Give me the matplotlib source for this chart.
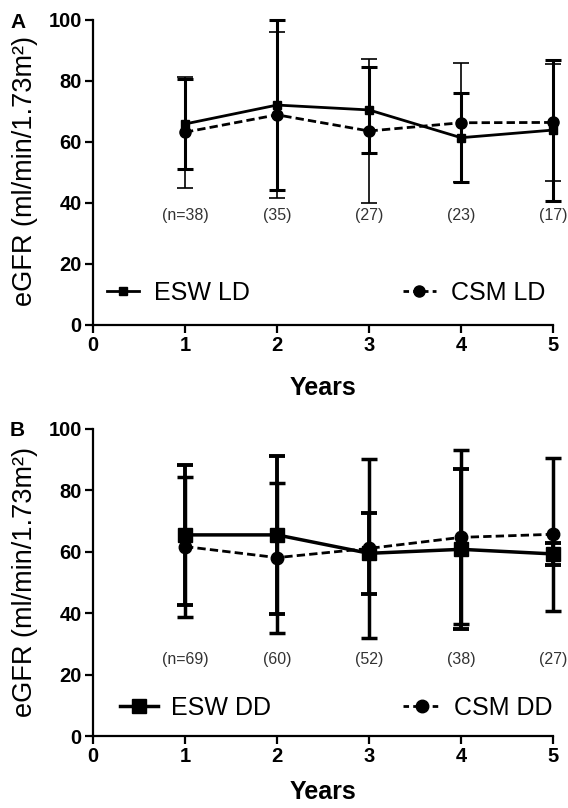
import matplotlib
matplotlib.use("Agg")
import matplotlib.pyplot as plt
from matplotlib.lines import Line2D

plt.rcParams['font.family'] = ['Liberation Sans', 'DejaVu Sans']

years = [1, 2, 3, 4, 5]

# panel A: living donor
esw_ld = [65.9, 72.1, 70.5, 61.4, 63.9]
esw_ld_sd = [14.7, 28.0, 14.0, 14.6, 23.1]
csm_ld = [63.2, 68.9, 63.6, 66.3, 66.4]
csm_ld_sd = [18.2, 27.2, 23.5, 19.5, 19.2]
n_ld = ['(n=38)', '(35)', '(27)', '(23)', '(17)']

# panel B: deceased donor
esw_dd = [65.5, 65.5, 59.5, 60.8, 59.3]
esw_dd_sd = [22.8, 25.7, 13.2, 26.0, 3.5]
csm_dd = [61.7, 58.1, 61.1, 64.7, 65.7]
csm_dd_sd = [22.8, 24.4, 29.1, 28.3, 24.9]
n_dd = ['(n=69)', '(60)', '(52)', '(38)', '(27)']

fig = plt.figure(figsize=(5.68, 8.08), dpi=100)
axA = fig.add_axes([0.1637, 0.5978, 0.81, 0.3775])
axB = fig.add_axes([0.1637, 0.0891, 0.81, 0.380])


def style_axes(ax, pad):
    ax.set_xlim(0, 5)
    ax.set_ylim(0, 100)
    ax.set_xticks([0, 1, 2, 3, 4, 5])
    ax.set_yticks([0, 20, 40, 60, 80, 100])
    ax.spines['top'].set_visible(False)
    ax.spines['right'].set_visible(False)
    for s in ['left', 'bottom']:
        ax.spines[s].set_linewidth(1.6)
    ax.tick_params(width=1.6, length=6, labelsize=14.5, pad=2)
    for lab in ax.get_xticklabels() + ax.get_yticklabels():
        lab.set_fontweight('bold')
    ax.set_xlabel('Years', fontsize=18, fontweight='bold', labelpad=pad)


# ---- panel A
axA.errorbar(years, esw_ld, yerr=esw_ld_sd, color='black', lw=2, ls='-',
             marker='s', ms=6, elinewidth=2.2, capsize=6, capthick=2.2,
             clip_on=False, zorder=3)
axA.errorbar(years, csm_ld, yerr=csm_ld_sd, color='black', lw=2, ls=(0, (3, 1.5)),
             marker='o', ms=8, elinewidth=1.2, capsize=6, capthick=1.2,
             clip_on=False, zorder=3)
for x, t in zip(years, n_ld):
    axA.text(x, 36, t, ha='center', va='center', fontsize=11.5, color='#333333')
style_axes(axA, 15)

h1 = Line2D([], [], color='black', lw=2, marker='s', ms=6)
h2 = Line2D([], [], color='black', lw=2, ls=(0, (2, 1.5)), marker='o', ms=8)
leg1 = axA.legend([h1], ['ESW LD'], loc='center left', bbox_to_anchor=(0.03, 0.105),
                  frameon=False, fontsize=18, handlelength=1.3, handletextpad=0.6,
                  borderpad=0, borderaxespad=0, numpoints=1)
axA.add_artist(leg1)
axA.legend([h2], ['CSM LD'], loc='center left', bbox_to_anchor=(0.674, 0.105),
           frameon=False, fontsize=18, handlelength=1.3, handletextpad=0.6,
           borderpad=0, borderaxespad=0, numpoints=1)

# ---- panel B
axB.errorbar(years, esw_dd, yerr=esw_dd_sd, color='black', lw=2.5, ls='-',
             marker='s', ms=10, elinewidth=2.8, capsize=6, capthick=2.8,
             clip_on=False, zorder=3)
axB.errorbar(years, csm_dd, yerr=csm_dd_sd, color='black', lw=2, ls=(0, (3, 1.5)),
             marker='o', ms=9, elinewidth=2.5, capsize=6, capthick=2.5,
             clip_on=False, zorder=3)
for x, t in zip(years, n_dd):
    axB.text(x, 25, t, ha='center', va='center', fontsize=11.5, color='#333333')
style_axes(axB, 10)

h3 = Line2D([], [], color='black', lw=2.5, marker='s', ms=10)
h4 = Line2D([], [], color='black', lw=2, ls=(0, (2, 1.5)), marker='o', ms=9)
leg3 = axB.legend([h3], ['ESW DD'], loc='center left', bbox_to_anchor=(0.059, 0.091),
                  frameon=False, fontsize=18, handlelength=1.5, handletextpad=0.55,
                  borderpad=0, borderaxespad=0, numpoints=1)
axB.add_artist(leg3)
axB.legend([h4], ['CSM DD'], loc='center left', bbox_to_anchor=(0.674, 0.091),
           frameon=False, fontsize=18, handlelength=1.5, handletextpad=0.55,
           borderpad=0, borderaxespad=0, numpoints=1)

# y labels and panel letters
fig.text(25 / 568, 1 - 171 / 808, 'eGFR (ml/min/1.73m²)', rotation=90,
         ha='center', va='center', fontsize=19.5)
fig.text(25 / 568, 1 - 582 / 808, 'eGFR (ml/min/1.73m²)', rotation=90,
         ha='center', va='center', fontsize=19.5)
fig.text(10 / 568, 1 - 22 / 808, 'A', fontsize=15, fontweight='bold', va='center')
fig.text(10 / 568, 1 - 430 / 808, 'B', fontsize=15, fontweight='bold', va='center')

fig.savefig('out.png', dpi=100)
